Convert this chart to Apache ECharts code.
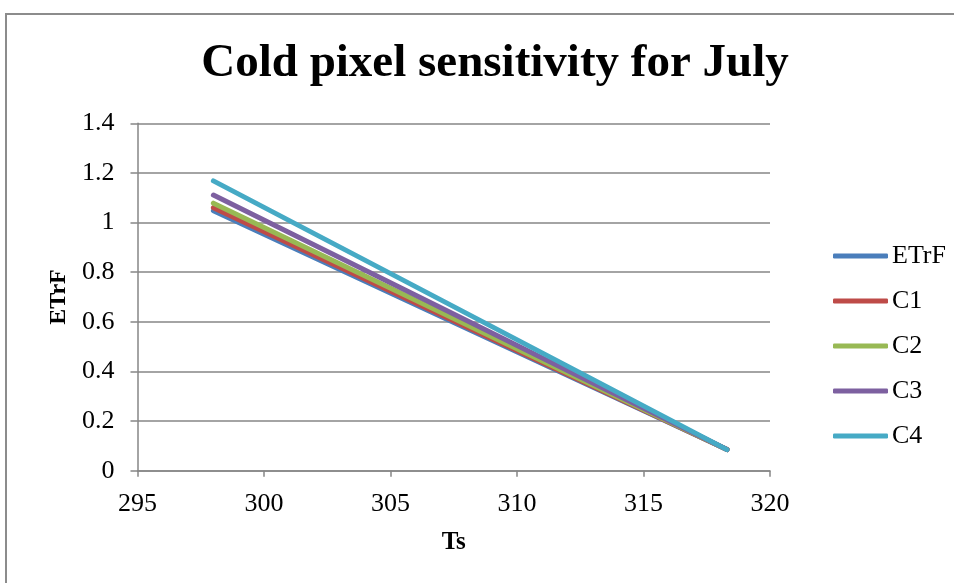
<!DOCTYPE html>
<html>
<head>
<meta charset="utf-8">
<script src="https://cdn.jsdelivr.net/npm/echarts@6/dist/echarts.min.js"></script>
<style>
  html, body { margin: 0; padding: 0; background: #fff; }
  #chart { width: 954px; height: 583px; }
</style>
</head>
<body>
<div id="chart"></div>
<script>
// Surface temperature (Ts) at the two ends of each run
const ts = [298.0, 318.3];

// ETrF for the base case and the four cold-pixel variants
const seriesNames = ['ETrF', 'C1', 'C2', 'C3', 'C4'];
const etrf = [1.048, 0.085];
const c1 = [1.060, 0.085];
const c2 = [1.078, 0.085];
const c3 = [1.111, 0.085];
const c4 = [1.168, 0.085];

const xTicks = [295, 300, 305, 310, 315, 320];
const yTicks = [0, 0.2, 0.4, 0.6, 0.8, 1, 1.2, 1.4];

const colors = ['#4A7EBB', '#BE4B48', '#98B954', '#7D60A0', '#46AAC5'];
const values = [etrf, c1, c2, c3, c4];

const font = 'Liberation Serif, Times New Roman, serif';
const gridColor = '#868686';

const chart = echarts.init(document.getElementById('chart'), null, { renderer: 'canvas' });

chart.setOption({
  backgroundColor: '#fff',
  animation: false,
  title: {
    text: 'Cold pixel sensitivity for July',
    left: 490,
    textAlign: 'center',
    top: 35,
    textStyle: { fontFamily: font, fontWeight: 'bold', fontSize: 47, color: '#000' }
  },
  graphic: [{
    type: 'rect',
    shape: { x: 6, y: 14, width: 1000, height: 700 },
    style: { fill: 'none', stroke: '#8c8c8c', lineWidth: 2 },
    silent: true
  }],
  grid: { left: 137.5, right: 184, top: 123.3, bottom: 112.3, containLabel: false },
  legend: {
    orient: 'vertical',
    left: 828,
    top: 238,
    itemWidth: 55,
    itemHeight: 5,
    itemGap: 19,
    icon: 'roundRect',
    data: seriesNames,
    textStyle: { fontFamily: font, fontSize: 26, color: '#000', lineHeight: 26, padding: [0, 0, 0, -1] }
  },
  xAxis: {
    type: 'value',
    min: xTicks[0],
    max: xTicks[xTicks.length - 1],
    interval: 5,
    name: 'Ts',
    nameLocation: 'middle',
    nameGap: 59,
    nameTextStyle: { fontFamily: font, fontWeight: 'bold', fontSize: 25, color: '#000' },
    axisLine: { show: true, onZero: false, lineStyle: { color: gridColor, width: 1.5 } },
    axisTick: { show: true, inside: false, length: 6, lineStyle: { color: gridColor, width: 1.5 } },
    axisLabel: {
      fontFamily: font, fontSize: 26, color: '#000', margin: 20,
      formatter: v => String(v)
    },
    splitLine: { show: false }
  },
  yAxis: {
    type: 'value',
    min: yTicks[0],
    max: yTicks[yTicks.length - 1],
    interval: 0.2,
    name: 'ETrF',
    nameLocation: 'middle',
    nameGap: 67,
    nameRotate: 90,
    nameTextStyle: { fontFamily: font, fontWeight: 'bold', fontSize: 24, color: '#000' },
    axisLine: { show: true, lineStyle: { color: gridColor, width: 1.5 } },
    axisTick: { show: true, inside: false, length: 7, lineStyle: { color: gridColor, width: 1.5 } },
    axisLabel: {
      fontFamily: font, fontSize: 26, color: '#000', margin: 23,
      formatter: v => String(Math.round(v * 10) / 10)
    },
    splitLine: { show: true, lineStyle: { color: gridColor, width: 1.5 } }
  },
  series: seriesNames.map((name, i) => ({
    name: name,
    type: 'line',
    data: ts.map((t, j) => [t, values[i][j]]),
    showSymbol: false,
    symbol: 'none',
    color: colors[i],
    lineStyle: { color: colors[i], width: 5, cap: 'round', join: 'round' },
    z: 2 + i
  }))
});
</script>
</body>
</html>
